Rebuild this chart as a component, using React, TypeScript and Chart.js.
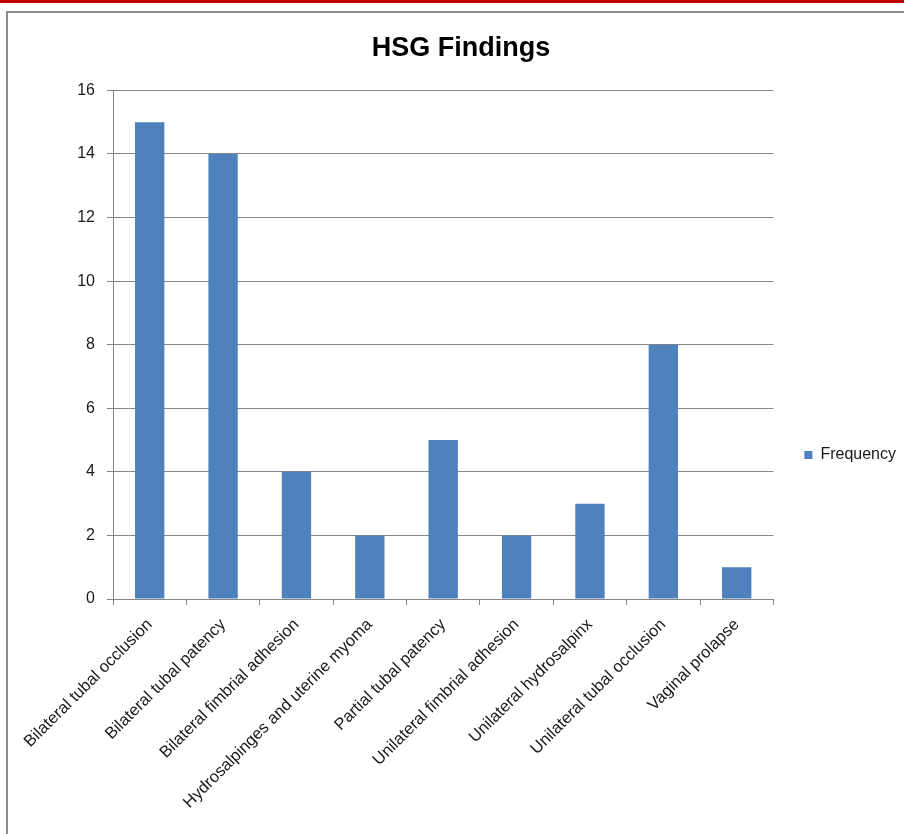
import React, { useEffect, useRef } from "react";
import { Chart, registerables } from "chart.js";

Chart.register(...registerables);

const categories = [
  "Bilateral tubal occlusion",
  "Bilateral tubal patency",
  "Bilateral fimbrial adhesion",
  "Hydrosalpinges and uterine myoma",
  "Partial tubal patency",
  "Unilateral fimbrial adhesion",
  "Unilateral hydrosalpinx",
  "Unilateral tubal occlusion",
  "Vaginal prolapse",
];
const frequency = [15, 14, 4, 2, 5, 2, 3, 8, 1];
const seriesName = "Frequency";
const chartTitle = "HSG Findings";
const yMax = 16;
const yStep = 2;

const FONT = "'Liberation Sans', Arial, sans-serif";
const GRID = "#868686";

export default function App() {
  const ref = useRef<HTMLCanvasElement | null>(null);
  useEffect(() => {
    if (!ref.current) return;
    const chart = new Chart(ref.current, {
      type: "bar",
      data: {
        labels: categories,
        datasets: [
          {
            label: seriesName,
            data: frequency,
            backgroundColor: "#4f81bd",
            borderWidth: 0,
            barPercentage: 0.4,
            categoryPercentage: 1,
          },
        ],
      },
      options: {
        responsive: false,
        animation: false,
        layout: { padding: { left: 16, right: 0, top: 0, bottom: 0 } },
        plugins: {
          title: {
            display: true,
            text: chartTitle,
            color: "#000",
            font: { family: FONT, size: 27, weight: "bold", lineHeight: 1.2 },
            padding: { top: 20, bottom: 26 },
          },
          legend: {
            position: "right",
            labels: {
              boxWidth: 8,
              boxHeight: 8,
              padding: 31,
              color: "#1a1a1a",
              font: { family: FONT, size: 16 },
            },
          },
          tooltip: { enabled: false },
        },
        scales: {
          x: {
            grid: {
              display: true,
              offset: true,
              drawOnChartArea: false,
              drawTicks: true,
              tickLength: 6,
              color: GRID,
            },
            border: { display: true, color: GRID, width: 1 },
            ticks: {
              minRotation: 45,
              maxRotation: 45,
              autoSkip: false,
              padding: 10,
              color: "#1a1a1a",
              font: { family: FONT, size: 16.5 },
            },
            afterFit: (scale: any) => {
              scale.height = 299;
            },
          },
          y: {
            min: 0,
            max: yMax,
            ticks: {
              stepSize: yStep,
              padding: 12,
              color: "#1a1a1a",
              font: { family: FONT, size: 16 },
            },
            grid: { color: GRID, tickLength: 6 },
            border: { display: true, color: GRID, width: 1 },
            afterFit: (scale: any) => {
              scale.width = 97;
            },
          },
        },
      },
    });
    return () => chart.destroy();
  }, []);

  return (
    <div
      style={{
        position: "absolute",
        left: 0,
        top: 0,
        width: 904,
        height: 834,
        overflow: "hidden",
        background: "#fff",
      }}
    >
      <div
        style={{
          position: "absolute",
          left: 0,
          top: 0,
          width: 904,
          height: 3,
          background: "#c00000",
        }}
      />
      <div
        style={{
          position: "absolute",
          left: 6,
          top: 11,
          width: 1000,
          height: 1000,
          border: "2px solid #8c8c8c",
          boxSizing: "border-box",
        }}
      />
      <canvas
        ref={ref}
        width={906}
        height={886}
        style={{ position: "absolute", left: 0, top: 12, width: 906, height: 886 }}
      />
    </div>
  );
}
